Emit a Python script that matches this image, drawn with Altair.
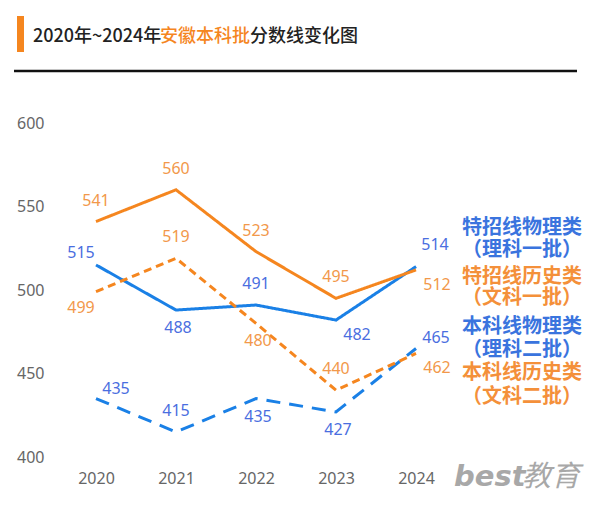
import altair as alt
import pandas as pd

# ---------------- data ----------------
years = [2020, 2021, 2022, 2023, 2024]
series_names = ["特招线物理类", "特招线历史类", "本科线物理类", "本科线历史类"]
tezhao_wuli = [515, 488, 491, 482, 514]
tezhao_lishi = [541, 560, 523, 495, 512]
benke_wuli = [435, 415, 435, 427, 465]
benke_lishi = [499, 519, 480, 440, 462]
legend_sub = ["（理科一批）", "（文科一批）", "（理科二批）", "（文科二批）"]
title_parts = ["2020年~2024年", "安徽本科批", "分数线变化图"]
watermark_parts = ["best", "教育"]
y_ticks = [400, 450, 500, 550, 600]

# ---------------- style ----------------
BLUE = "#1a80e6"
ORANGE = "#f5861f"
LABEL_BLUE = "#4a6ee0"
LABEL_ORANGE = "#f2984a"
LEG_BLUE = "#3a74de"
LEG_ORANGE = "#f4903a"
FONT = "Noto Sans"
CJK = "Noto Sans CJK SC"

line_colors = [BLUE, ORANGE, BLUE, ORANGE]
label_colors = [LABEL_BLUE, LABEL_ORANGE, LABEL_BLUE, LABEL_ORANGE]
legend_colors = [LEG_BLUE, LEG_ORANGE, LEG_BLUE, LEG_ORANGE]
dashes = [[1, 0], [1, 0], [14, 9], [8, 5]]
placements = [
    ["tl", "b", "t", "br", "trh"],
    ["t", "t", "t", "t", "br"],
    ["tr", "t", "b", "b", "tr"],
    ["bl", "t", "b", "t", "br"],
]
offsets = {
    "t": (0, -21),
    "b": (2, 18),
    "tl": (-15, -12),
    "bl": (-15, 16),
    "tr": (20, -10),
    "trh": (19, -22),
    "br": (21, 15),
}

values = [tezhao_wuli, tezhao_lishi, benke_wuli, benke_lishi]
rows = []
for si, name in enumerate(series_names):
    for yi, yr in enumerate(years):
        rows.append({
            "year": yr,
            "value": values[si][yi],
            "series": name,
            "lcolor": label_colors[si],
            "place": placements[si][yi],
        })
df = pd.DataFrame(rows)

W, H = 400, 334
x_scale = alt.Scale(domain=[2019.5, 2024.5])
y_scale = alt.Scale(domain=[400, 600])

base = alt.Chart(df)

lines = base.mark_line(strokeWidth=3).encode(
    x=alt.X("year:Q", scale=x_scale,
            axis=alt.Axis(values=years, format="d", grid=False, domain=False, ticks=False,
                          labelPadding=13, labelFontSize=16, labelColor="#666666",
                          labelFont=FONT, title=None)),
    y=alt.Y("value:Q", scale=y_scale,
            axis=alt.Axis(values=y_ticks, grid=False, domain=False, ticks=False,
                          labelPadding=12, labelFontSize=16, labelColor="#666666",
                          labelFont=FONT, title=None)),
    color=alt.Color("series:N", scale=alt.Scale(domain=series_names, range=line_colors), legend=None),
    strokeDash=alt.StrokeDash("series:N", scale=alt.Scale(domain=series_names, range=dashes), legend=None),
    detail="series:N",
)

label_layers = []
for code, (dx, dy) in offsets.items():
    label_layers.append(
        base.transform_filter(alt.datum.place == code)
        .mark_text(fontSize=16, font=FONT, dx=dx, dy=dy, baseline="middle", align="center")
        .encode(
            x=alt.X("year:Q", scale=x_scale),
            y=alt.Y("value:Q", scale=y_scale),
            text=alt.Text("value:Q", format="d"),
            color=alt.Color("lcolor:N", scale=None),
        )
    )

# legend text (right side)
legend_layers = []
leg_x = 466
leg_y = [105, 127, 154, 175, 204, 227, 250, 274]
for i in range(4):
    for j, txt in enumerate([series_names[i], legend_sub[i]]):
        legend_layers.append(
            alt.Chart(pd.DataFrame({"t": [txt]})).mark_text(
                fontSize=20, font=CJK, fontWeight="bold", align="center", baseline="middle",
                color=legend_colors[i]
            ).encode(text="t:N", x=alt.value(leg_x), y=alt.value(leg_y[2 * i + j]))
        )

# header
title_x = [-23, 104, 194]
title_colors = ["#222222", ORANGE, "#222222"]
title_layers = []
for txt, tx, tc in zip(title_parts, title_x, title_colors):
    title_layers.append(
        alt.Chart(pd.DataFrame({"t": [txt]})).mark_text(
            fontSize=18, font=CJK, fontWeight=500, align="left", baseline="middle", color=tc
        ).encode(text="t:N", x=alt.value(tx), y=alt.value(-86))
    )

bar = alt.Chart(pd.DataFrame({"a": [0]})).mark_rect(color=ORANGE).encode(
    x=alt.value(-39), x2=alt.value(-32), y=alt.value(-107), y2=alt.value(-71)
)
hrule = alt.Chart(pd.DataFrame({"a": [0]})).mark_rule(color="#111111", strokeWidth=2.5).encode(
    x=alt.value(-42), x2=alt.value(521), y=alt.value(-52)
)

wm1 = alt.Chart(pd.DataFrame({"t": [watermark_parts[0]]})).mark_text(
    fontSize=29, font="DejaVu Sans", fontStyle="italic", fontWeight="bold",
    align="left", baseline="middle", color="#a8a8a8"
).encode(text="t:N", x=alt.value(398), y=alt.value(354))
wm2 = alt.Chart(pd.DataFrame({"t": [watermark_parts[1]]})).mark_text(
    fontSize=29, font=CJK, fontStyle="italic", fontWeight="normal",
    align="left", baseline="middle", color="#a8a8a8"
).encode(text="t:N", x=alt.value(466), y=alt.value(354))

chart = alt.layer(lines, *label_layers, *legend_layers, *title_layers, bar, hrule, wm1, wm2).properties(
    width=W, height=H,
    autosize=alt.AutoSizeParams(type="none"),
    padding={"left": 48, "top": 115, "right": 136, "bottom": 38},
    background="white",
).configure_view(stroke=None)

chart.save("out.html", embed_options={"renderer": "svg", "actions": False})
